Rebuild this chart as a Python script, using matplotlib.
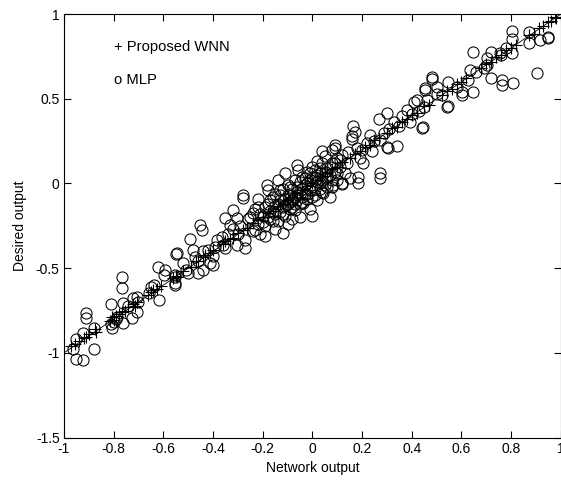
import matplotlib
matplotlib.use('Agg')
import matplotlib.pyplot as plt

plt.rcParams['font.family'] = ['Liberation Sans', 'DejaVu Sans']
plt.rcParams['font.size'] = 10

# ______________________ datos ______________________

# MLP (circulos)
mlp_x = [-0.767, -0.767, -0.911, -0.911, -0.924, -0.951, -0.962, -0.951, -0.922, -0.877,
         -0.877, -0.811, -0.81, -0.807, -0.787, -0.76, -0.76, -0.727, -0.723, -0.707,
         -0.707, -0.65, -0.637, -0.656, -0.617, -0.62, -0.593, -0.597, -0.553, -0.553,
         -0.543, -0.80, -0.74, -0.70, -0.79,
         -0.548, -0.492, -0.452, -0.445, -0.479, -0.472, -0.508, -0.50, -0.553, -0.553,
         -0.439, -0.459, -0.412, -0.398, -0.40, -0.385, -0.365, -0.392, -0.351, -0.318,
         -0.304, -0.331, -0.304, -0.271, -0.271, -0.278, -0.278, -0.237, -0.231, -0.26,
         -0.44, -0.46, -0.42, -0.36, -0.34, -0.32, -0.30, -0.29, -0.35, -0.52,
         -0.25, -0.24, -0.23, -0.22, -0.21, -0.217, -0.20, -0.19, -0.184, -0.177,
         -0.18, -0.17, -0.16, -0.16, -0.15, -0.15, -0.14, -0.13, -0.13, -0.12,
         -0.11, -0.11, -0.10, -0.10, -0.09, -0.09, -0.08, -0.07, -0.07, -0.06,
         -0.056, -0.05, -0.05, -0.04, -0.04, -0.036, -0.03, -0.02, -0.02, -0.01,
         -0.01, -0.002, 0.00, 0.01, 0.01, 0.02, 0.02, 0.03, 0.03, 0.04,
         0.044, 0.05, 0.05, 0.06, 0.06, 0.07, 0.078, 0.078, 0.08, 0.085,
         0.09, 0.09, 0.10, 0.10, 0.11, 0.118, 0.12, 0.12, 0.13, 0.14,
         0.145, 0.15, -0.22, -0.19, -0.12, -0.08, 0.00, -0.06, -0.14, 0.04, 0.07,
         -0.21, -0.20, -0.19, -0.18, -0.17, -0.17, -0.16, -0.15, -0.15, -0.14,
         -0.13, -0.13, -0.12, -0.12, -0.11, -0.11, -0.10, -0.10, -0.09, -0.09,
         -0.08, -0.08, -0.07, -0.07, -0.06, -0.06, -0.05, -0.05, -0.04, -0.04,
         -0.03, -0.03, -0.02, -0.02, -0.01, -0.01, 0.00, 0.00, 0.01, 0.01,
         0.02, 0.02, 0.03, 0.03, 0.04, 0.04, 0.05, 0.05, 0.06, 0.07,
         0.08, 0.09, 0.10, 0.11, 0.091,
         0.165, 0.172, 0.159, 0.161, 0.178, 0.185, 0.185, 0.205, 0.19, 0.20,
         0.22, 0.232, 0.24, 0.25, 0.272, 0.272, 0.272, 0.299, 0.34, 0.306,
         0.299, 0.268, 0.29, 0.31, 0.33, 0.35, 0.36, 0.38, 0.393, 0.40,
         0.42, 0.41, 0.447, 0.44, 0.43, 0.45, 0.46, 0.48, 0.48, 0.454,
         0.454, 0.50, 0.547, 0.541, 0.547, 0.52, 0.50,
         0.601, 0.601, 0.648, 0.628, 0.635, 0.648, 0.702, 0.702, 0.718, 0.718,
         0.755, 0.762, 0.762, 0.809, 0.805, 0.805, 0.805, 0.873, 0.873, 0.916,
         0.95, 0.95, 0.905, 0.58, 0.66, 0.69, 0.76, 0.78]
mlp_y = [-0.55, -0.615, -0.762, -0.795, -0.88, -0.916, -0.975, -1.034, -1.041, -0.978,
         -0.851, -0.711, -0.829, -0.854, -0.786, -0.707, -0.825, -0.795, -0.677, -0.668,
         -0.756, -0.609, -0.599, -0.644, -0.687, -0.494, -0.51, -0.54, -0.55, -0.589,
         -0.412, -0.82, -0.72, -0.70, -0.80,
         -0.418, -0.327, -0.245, -0.274, -0.392, -0.432, -0.51, -0.53, -0.54, -0.599,
         -0.51, -0.53, -0.471, -0.481, -0.43, -0.333, -0.314, -0.373, -0.205, -0.156,
         -0.205, -0.245, -0.363, -0.382, -0.333, -0.084, -0.068, -0.176, -0.274, -0.21,
         -0.40, -0.46, -0.39, -0.36, -0.30, -0.27, -0.30, -0.25, -0.38, -0.47,
         -0.20, -0.28, -0.15, -0.24, -0.30, -0.137, -0.19, -0.25, -0.009, -0.038,
         -0.12, -0.21, -0.17, -0.08, -0.27, -0.13, -0.22, -0.10, -0.04, -0.18,
         0.06, -0.13, -0.07, -0.24, -0.02, -0.15, -0.10, -0.156, 0.02, -0.05,
         0.08, -0.12, -0.20, 0.04, -0.08, -0.117, -0.01, -0.06, 0.07, -0.15,
         0.02, -0.078, 0.10, -0.03, 0.04, -0.10, 0.13, 0.00, 0.06, -0.05,
         -0.058, 0.03, 0.16, 0.09, -0.02, 0.05, 0.198, -0.019, 0.12, -0.009,
         0.07, 0.21, 0.02, 0.15, 0.10, 0.001, -0.003, 0.17, 0.06, 0.12,
         0.188, 0.03, -0.09, -0.31, -0.29, -0.21, -0.19, 0.11, 0.02, 0.19, -0.08,
         -0.18, -0.23, -0.14, -0.20, -0.10, -0.16, -0.22, -0.18, -0.06, -0.12,
         -0.17, -0.07, -0.14, -0.03, -0.09, -0.19, -0.12, -0.01, -0.06, -0.11,
         -0.03, -0.14, -0.08, -0.12, -0.02, -0.10, -0.06, 0.01, -0.03, -0.11,
         -0.06, 0.03, -0.09, 0.00, -0.04, 0.06, -0.02, 0.04, -0.07, 0.08,
         0.01, 0.05, -0.03, 0.09, 0.02, 0.12, 0.07, -0.01, 0.04, 0.10,
         0.02, 0.12, 0.06, 0.14, 0.227,
         0.34, 0.306, 0.28, 0.263, 0.208, 0.001, 0.04, 0.118, 0.15, 0.20,
         0.24, 0.286, 0.19, 0.25, 0.06, 0.031, 0.257, 0.217, 0.223, 0.208,
         0.414, 0.381, 0.30, 0.32, 0.36, 0.34, 0.40, 0.434, 0.365, 0.41,
         0.493, 0.48, 0.335, 0.326, 0.43, 0.45, 0.49, 0.63, 0.617, 0.562,
         0.552, 0.571, 0.60, 0.453, 0.457, 0.52, 0.53,
         0.542, 0.522, 0.542, 0.611, 0.67, 0.774, 0.739, 0.70, 0.778, 0.62,
         0.768, 0.61, 0.581, 0.591, 0.901, 0.851, 0.768, 0.896, 0.827, 0.847,
         0.866, 0.857, 0.65, 0.57, 0.66, 0.68, 0.76, 0.80]

# WNN propuesta (cruces)
wnn_x = [-0.97, -0.955, -0.94, -0.92, -0.91, -0.90, -0.875, -0.87,
         -0.815, -0.805, -0.80, -0.79, -0.78, -0.765, -0.755, -0.74, -0.72, -0.715, -0.705,
         -0.66, -0.65, -0.64, -0.625, -0.61,
         -0.56, -0.55, -0.545, -0.52,
         -0.49, -0.47, -0.46, -0.44, -0.43, -0.41, -0.40,
         -0.36, -0.35, -0.33, -0.32, -0.30, -0.28, -0.265,
         -0.24, -0.22, -0.20, -0.18, -0.16, -0.14, -0.12, -0.10, -0.08, -0.06,
         -0.04, -0.02, 0.00, 0.02, 0.04, 0.06, 0.08, 0.10, 0.12,
         0.15, 0.17, 0.19, 0.21, 0.23, 0.25, 0.27, 0.30, 0.32, 0.34,
         0.36, 0.38, 0.40, 0.42, 0.45, 0.47,
         0.52, 0.54, 0.56, 0.58, 0.60, 0.62,
         0.68, 0.70, 0.72, 0.74, 0.76, 0.78, 0.80, 0.82,
         0.87, 0.89, 0.91, 0.93, 0.95, 0.96, 0.975, 0.98]
wnn_y = [-0.96, -0.95, -0.93, -0.91, -0.905, -0.89, -0.86, -0.875,
         -0.81, -0.79, -0.805, -0.78, -0.77, -0.76, -0.75, -0.73, -0.71, -0.72, -0.70,
         -0.655, -0.64, -0.63, -0.62, -0.605,
         -0.555, -0.545, -0.55, -0.515,
         -0.49, -0.46, -0.455, -0.435, -0.42, -0.41, -0.395,
         -0.355, -0.34, -0.325, -0.32, -0.29, -0.275, -0.26,
         -0.235, -0.215, -0.20, -0.175, -0.16, -0.135, -0.12, -0.095, -0.08, -0.055,
         -0.04, -0.015, 0.005, 0.02, 0.045, 0.06, 0.085, 0.10, 0.125,
         0.15, 0.175, 0.19, 0.215, 0.225, 0.255, 0.27, 0.30, 0.325, 0.335,
         0.365, 0.38, 0.405, 0.415, 0.455, 0.465,
         0.52, 0.545, 0.555, 0.585, 0.60, 0.625,
         0.68, 0.705, 0.715, 0.745, 0.76, 0.785, 0.80, 0.82,
         0.875, 0.885, 0.915, 0.93, 0.955, 0.96, 0.98, 0.975]

x_ticks = [-1, -0.8, -0.6, -0.4, -0.2, 0, 0.2, 0.4, 0.6, 0.8, 1]
x_ticklabels = ['-1', '-0.8', '-0.6', '-0.4', '-0.2', '0', '0.2', '0.4', '0.6', '0.8', '1']
y_ticks = [-1.5, -1, -0.5, 0, 0.5, 1]
y_ticklabels = ['-1.5', '-1', '-0.5', '0', '0.5', '1']

# ______________________________ grafica ______________________________

fig = plt.figure(figsize=(5.61, 4.82), dpi=100)
ax = fig.add_axes([0.1138, 0.0919, 0.886, 0.879])

ax.plot([-1, 1], [-1, 1], color='black', linewidth=0.6)
ax.plot(mlp_x, mlp_y, 'o', markersize=8, markerfacecolor='none',
        markeredgecolor='black', markeredgewidth=0.75)
ax.plot(wnn_x, wnn_y, '+', markersize=8, color='black', markeredgewidth=0.8)

ax.text(-0.80, 0.805, '+ Proposed WNN', va='center', ha='left', fontsize=10.6)
ax.text(-0.80, 0.61, 'o MLP', va='center', ha='left', fontsize=10.6)

ax.set_xlim(-1, 1)
ax.set_ylim(-1.5, 1)
ax.set_xticks(x_ticks)
ax.set_xticklabels(x_ticklabels)
ax.set_yticks(y_ticks)
ax.set_yticklabels(y_ticklabels)
ax.tick_params(direction='in', top=True, right=True, length=5, width=0.8, labelsize=10, pad=3)
for s in ax.spines.values():
    s.set_linewidth(0.8)

ax.set_xlabel('Network output', fontsize=10, labelpad=4)
ax.set_ylabel('Desired output', fontsize=10, labelpad=6)

fig.savefig('out.png', dpi=100)
